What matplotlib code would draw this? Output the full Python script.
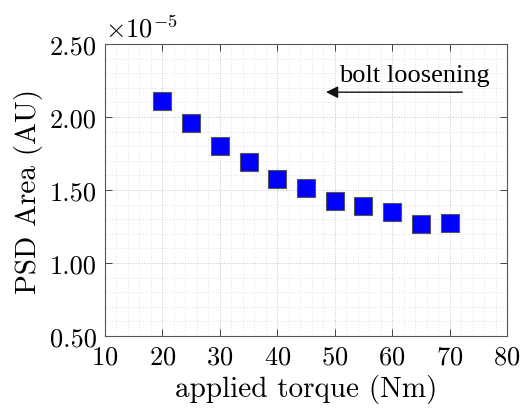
import matplotlib
matplotlib.use("Agg")
import matplotlib.pyplot as plt
from matplotlib.ticker import MultipleLocator, FuncFormatter

torque = [20, 25, 30, 35, 40, 45, 50, 55, 60, 65, 70]
psd_area = [2.108e-5, 1.961e-5, 1.803e-5, 1.692e-5, 1.575e-5, 1.514e-5,
            1.423e-5, 1.393e-5, 1.347e-5, 1.265e-5, 1.274e-5]

plt.rcParams['font.family'] = 'serif'
plt.rcParams['font.serif'] = ['cmr10']
plt.rcParams['mathtext.fontset'] = 'cm'
plt.rcParams['axes.formatter.use_mathtext'] = True

fig = plt.figure(figsize=(5.2, 4.1), dpi=100)
ax = fig.add_axes([105 / 520, 1 - 337 / 410, 402 / 520, 292 / 410])

ax.plot(torque, psd_area, 's', markersize=13, markerfacecolor='#0000ff',
        markeredgecolor='#555555', markeredgewidth=0.8, zorder=3)

ax.set_xlim(10, 80)
ax.set_ylim(0.5e-5, 2.5e-5)
ax.xaxis.set_major_locator(MultipleLocator(10))
ax.xaxis.set_minor_locator(MultipleLocator(2))
ax.yaxis.set_major_locator(MultipleLocator(0.5e-5))
ax.yaxis.set_minor_locator(MultipleLocator(0.1e-5))
ax.yaxis.set_major_formatter(FuncFormatter(lambda v, p: f"{v * 1e5:.2f}"))

ax.grid(which='major', linestyle=':', color='#c4c4c4', linewidth=0.7)
ax.grid(which='minor', linestyle=':', color='#dedede', linewidth=0.6)
ax.set_axisbelow(True)

ax.tick_params(which='major', direction='in', top=True, right=True,
               length=5, width=0.7, color='#444444', labelsize=19, pad=6)
ax.tick_params(which='minor', length=0)
for s in ax.spines.values():
    s.set_color('#555555')
    s.set_linewidth(0.8)

ax.set_xlabel('applied torque (Nm)', fontsize=21, labelpad=4)
ax.set_ylabel('PSD Area (AU)', fontsize=21, labelpad=5)
ax.text(0.0, 1.01, r'$\times10^{-5}$', transform=ax.transAxes,
        fontsize=19, ha='left', va='bottom')

ax.annotate('', xy=(48, 2.17e-5), xytext=(72.7, 2.17e-5),
            arrowprops=dict(arrowstyle='-|>', color='#111111', lw=1,
                            mutation_scale=18))
ax.text(50.7, 2.29e-5, 'bolt loosening', fontsize=19,
        family='Liberation Serif', ha='left', va='center')

fig.savefig('out.png', dpi=100)
